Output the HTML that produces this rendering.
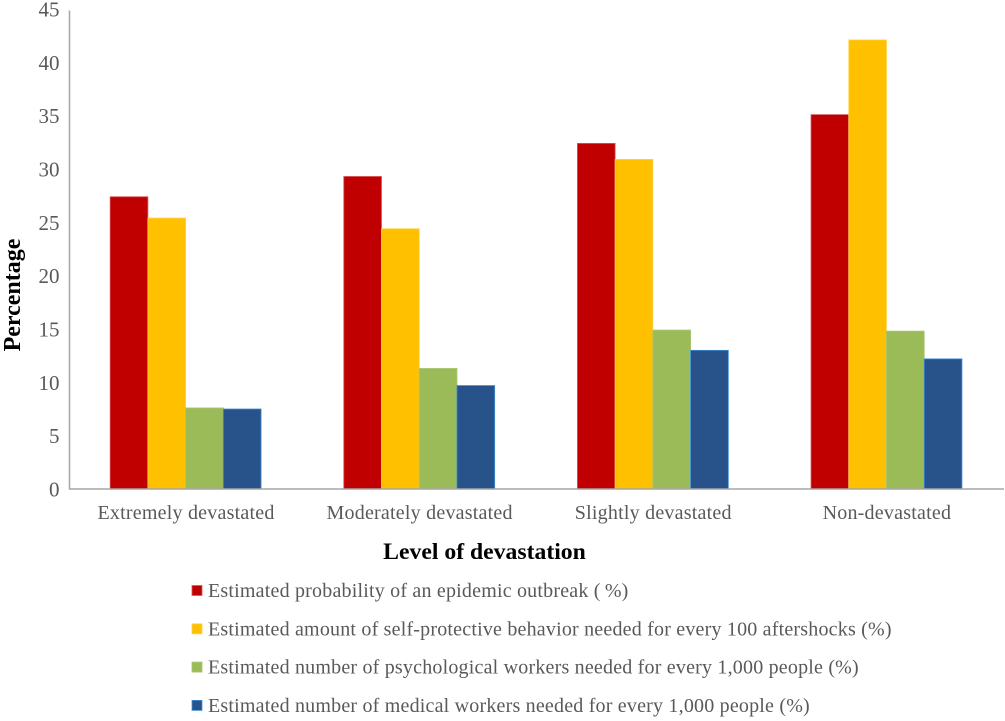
<!DOCTYPE html>
<html lang="en">
<head>
<meta charset="utf-8">
<title>Level of devastation chart</title>
<style>
html,body{margin:0;padding:0;background:#fff;}
svg{display:block;font-family:"Liberation Serif",serif;}
</style>
</head>
<body>
<svg id="chart" width="1005" height="721" viewBox="0 0 1005 721" xmlns="http://www.w3.org/2000/svg"></svg>
<script>
const categories = ["Extremely devastated", "Moderately devastated", "Slightly devastated", "Non-devastated"];
const probabilityValues = [27.4, 29.3, 32.4, 35.1];
const protectiveValues = [25.4, 24.4, 30.9, 42.1];
const psychologicalValues = [7.6, 11.3, 14.9, 14.8];
const medicalValues = [7.5, 9.7, 13.0, 12.2];
const yTicks = [0, 5, 10, 15, 20, 25, 30, 35, 40, 45];
const seriesNames = [
  "Estimated probability of an epidemic outbreak (\u2009%)",
  "Estimated amount of self-protective behavior needed for every 100 aftershocks (%)",
  "Estimated number of psychological workers needed for every 1,000 people (%)",
  "Estimated number of medical workers needed for every 1,000 people (%)"
];
const seriesColors = ["#c00000", "#ffc000", "#9bbb59", "#28528a"];
const seriesStrokes = ["#d9585a", "#ffd24d", "#a9c56e", "#3f8fd8"];
const seriesKeys = ["probability", "protective", "psychological", "medical"];
const seriesValues = [probabilityValues, protectiveValues, psychologicalValues, medicalValues];

const svg = document.getElementById('chart');
const NS = 'http://www.w3.org/2000/svg';
const plot = {left: 69.5, right: 1004, bottom: 489, top: 9};
const yMax = yTicks[yTicks.length - 1];
const y = v => plot.bottom - (v / yMax) * (plot.bottom - plot.top);
const catWidth = (plot.right - plot.left) / categories.length;
const barWidth = catWidth * 0.1615;
const catCenter = i => plot.left + catWidth * (i + 0.5) - 0.7;
const barX = (c, s) => catCenter(c) - barWidth * seriesValues.length / 2 + s * barWidth;

function make(tag, attrs, text) {
  const el = document.createElementNS(NS, tag);
  for (const k in attrs) el.setAttribute(k, attrs[k]);
  if (text !== undefined) el.textContent = text;
  svg.appendChild(el);
  return el;
}

// bars
seriesValues.forEach((vals, s) => {
  vals.forEach((v, c) => {
    const bar = make('rect', {x: barX(c, s), y: y(v), width: barWidth, height: plot.bottom - y(v), fill: seriesColors[s], stroke: seriesStrokes[s], 'stroke-width': 0.8});
    
    
  });
});

// axes
const yAxis = make('line', {x1: plot.left, y1: plot.top + 1.5, x2: plot.left, y2: plot.bottom, stroke: '#a6a6a6', 'stroke-width': 1.5});


const xAxis = make('line', {x1: plot.left - 0.7, y1: plot.bottom, x2: plot.right, y2: plot.bottom, stroke: '#a6a6a6', 'stroke-width': 1.5});



// y tick labels
yTicks.forEach(t => {
  const label = make('text', {x: 59.5, y: y(t) + 7.5, 'text-anchor': 'end', 'font-size': 21, fill: '#595959'}, String(t));
  
  
});

// x tick labels
categories.forEach((name, i) => {
  const label = make('text', {x: catCenter(i) + 0.4, y: 519, 'text-anchor': 'middle', 'font-size': 20, 'letter-spacing': 0.22, fill: '#595959'}, name);
  
  
});

// axis titles
const xTitle = make('text', {x: 484.5, y: 559, 'text-anchor': 'middle', 'font-size': 23.7, 'font-weight': 'bold', fill: '#000'}, 'Level of devastation');


const yTitle = make('text', {x: 0, y: 0, transform: 'translate(20,295) rotate(-90)', 'text-anchor': 'middle', 'font-size': 24, 'font-weight': 'bold', fill: '#000'}, 'Percentage');



// legend
seriesNames.forEach((name, i) => {
  const rowY = 590.5 + i * 38.3;
  const swatch = make('rect', {x: 192, y: rowY - 5, width: 10, height: 10, fill: seriesColors[i], stroke: seriesStrokes[i], 'stroke-width': 0.8});
  
  
  const label = make('text', {x: 208, y: rowY + 6.5, 'font-size': 20, 'letter-spacing': 0.2, fill: '#595959'}, name);
  
  
});
</script>
</body>
</html>
